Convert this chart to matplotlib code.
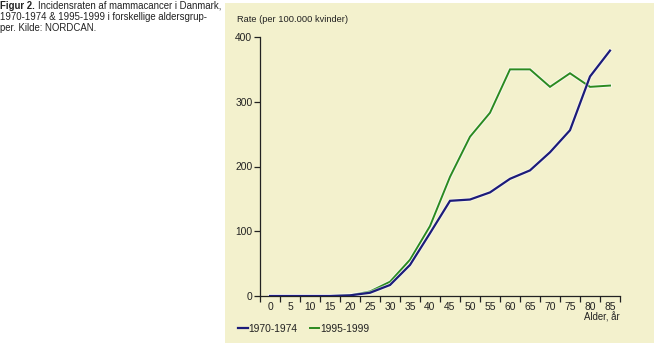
import matplotlib
matplotlib.use("Agg")
import matplotlib.pyplot as plt
import matplotlib.patheffects as pe
from matplotlib.patches import Rectangle

# Age groups (lower bound of each 5-year band)
ages = [0, 5, 10, 15, 20, 25, 30, 35, 40, 45, 50, 55, 60, 65, 70, 75, 80, 85]
# Incidence per 100.000 women
rate_1970_1974 = [0, 0, 0, 0, 1, 5, 17, 48, 97, 147, 149, 160, 181, 194, 222, 256, 339, 379]
rate_1995_1999 = [0, 0, 0, 0, 1, 7, 22, 56, 108, 184, 246, 283, 350, 350, 323, 344, 323, 325]
series_labels = ["1970-1974", "1995-1999"]

W, H = 654, 346
plt.rcParams["font.family"] = ["Liberation Sans", "DejaVu Sans"]
fig = plt.figure(figsize=(W / 100, H / 100), dpi=100)
fig.patch.set_facecolor("white")

panel_bg = "#f3f1cd"
text_col = "#222222"
blue = "#1c1c7a"
green = "#2b8a20"

# Shaded panel behind the chart
fig.patches.append(Rectangle((225 / W, 3 / H), (W - 225) / W, (H - 6) / H,
                             transform=fig.transFigure, facecolor=panel_bg,
                             edgecolor="none", zorder=-5))

# Caption
cap_fs = 6.9
fig.text(0 / W, 1 - 6 / H, "Figur 2.", fontsize=cap_fs, fontweight="bold",
         color=text_col, va="center", ha="left")
fig.text(38 / W, 1 - 6 / H, "Incidensraten af mammacancer i Danmark,",
         fontsize=cap_fs, color=text_col, va="center", ha="left")
fig.text(0 / W, 1 - 17 / H, "1970-1974 & 1995-1999 i forskellige aldersgrup-",
         fontsize=cap_fs, color=text_col, va="center", ha="left")
fig.text(0 / W, 1 - 28 / H, "per. Kilde: NORDCAN.",
         fontsize=cap_fs, color=text_col, va="center", ha="left")

ax = fig.add_axes([260 / W, (H - 296) / H, 360 / W, (296 - 37) / H])
ax.set_facecolor("none")
ax.set_zorder(2)

x = list(range(len(ages)))
halo = [pe.Stroke(linewidth=2.8, foreground="white", alpha=0.55), pe.Normal()]
ax.plot(x, rate_1970_1974, color=blue, lw=1.6, label=series_labels[0],
        path_effects=halo, solid_joinstyle="miter", zorder=3)
ax.plot(x, rate_1995_1999, color=green, lw=1.4, label=series_labels[1],
        path_effects=halo, solid_joinstyle="miter", zorder=2)

ax.set_xlim(-0.5, len(ages) - 0.5)
ax.set_ylim(0, 400)

for s in ["top", "right"]:
    ax.spines[s].set_visible(False)
for s in ["left", "bottom"]:
    ax.spines[s].set_color(text_col)
    ax.spines[s].set_linewidth(0.9)

tick_fs = 7.4
ax.set_yticks([0, 100, 200, 300, 400])
ax.tick_params(axis="y", direction="out", length=4, width=0.9, color=text_col,
               labelsize=tick_fs, labelcolor=text_col, pad=1.5)

# Tick marks on the band boundaries, labels centred in each band
ax.set_xticks([i - 0.5 for i in range(len(ages) + 1)])
ax.set_xticklabels([])
ax.set_xticks(x, minor=True)
ax.set_xticklabels([str(a) for a in ages], minor=True)
ax.tick_params(axis="x", which="major", direction="out", length=4, width=0.9,
               color=text_col)
ax.tick_params(axis="x", which="minor", length=0, labelsize=tick_fs,
               labelcolor=text_col, pad=4.5)

fig.text(237 / W, 1 - 20 / H, "Rate (per 100.000 kvinder)", fontsize=6.7,
         color=text_col, va="center", ha="left")
fig.text(620 / W, 1 - 317 / H, "Alder, år", fontsize=6.9,
         color=text_col, va="center", ha="right")

leg = ax.legend(loc="center left", bbox_to_anchor=(238 / W, 1 - 329 / H),
                bbox_transform=fig.transFigure, ncol=2, frameon=False,
                fontsize=7.4, handlelength=0.95, handletextpad=0.05,
                columnspacing=1.2, borderpad=0, borderaxespad=0)
for t in leg.get_texts():
    t.set_color(text_col)
for h in leg.legend_handles:
    h.set_path_effects([])

fig.savefig("out.png", dpi=100, facecolor="white")
